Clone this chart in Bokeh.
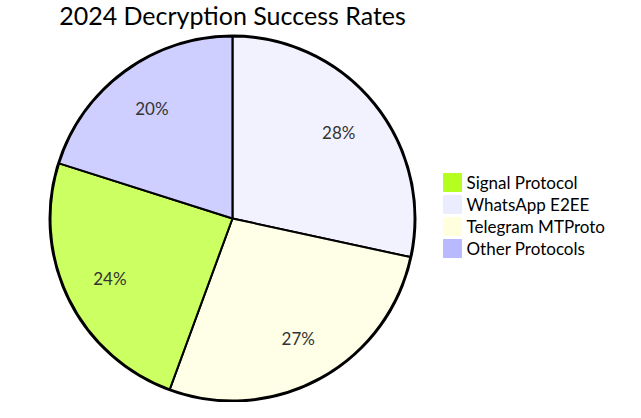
import math
from bokeh.plotting import figure
from bokeh.models import Range1d, ColumnDataSource
from bokeh.core.properties import value
from bokeh.embed import file_html
from bokeh.resources import INLINE

# ---- data ----
title = "2024 Decryption Success Rates"
categories = ["Signal Protocol", "WhatsApp E2EE", "Telegram MTProto", "Other Protocols"]
values = [24.3, 28.4, 27.2, 20.1]
colors = ["#b5ff20", "#ececff", "#ffffde", "#b9b9ff"]

FONT = "Lato"
W, H = 625, 402
p = figure(width=W, height=H, output_backend="svg", toolbar_location=None,
           x_range=Range1d(0, W), y_range=Range1d(0, H), min_border=0)
p.axis.visible = False
p.grid.visible = False
p.outline_line_color = None
p.background_fill_color = "white"

# reference pixel -> figure coords
def px(x):
    return x
def py(y):
    return H - (y - 8)

cx, cy, r = px(232), py(226), 182

# slices sorted descending (drawn clockwise from 12 o'clock)
order = sorted(range(len(values)), key=lambda i: -values[i])
total = sum(values)
starts, ends, fills, lx, ly, labels = [], [], [], [], [], []
cum = 0.0
for i in order:
    f0 = cum / total
    cum += values[i]
    f1 = cum / total
    a0 = math.pi / 2 - 2 * math.pi * f0
    a1 = math.pi / 2 - 2 * math.pi * f1
    starts.append(a0)
    ends.append(a1)
    fills.append(colors[i])
    mid = (a0 + a1) / 2
    lx.append(cx + 0.75 * r * math.cos(mid))
    ly.append(cy + 0.75 * r * math.sin(mid))
    labels.append(f"{round(values[i] / total * 100)}%")

src = ColumnDataSource(dict(s=starts, e=ends, c=fills))
p.wedge(x=cx, y=cy, radius=r, start_angle="s", end_angle="e", direction="clock",
        fill_color="c", fill_alpha=0.7, line_color="black", line_width=2, source=src)
p.circle(x=[cx], y=[cy], radius=r + 1, fill_color=None, line_color="black", line_width=2)

p.text(x=lx, y=ly, text=labels, text_font=value(FONT), text_font_size="17px",
       text_color="#333333", text_align="center", text_baseline="middle")

# title
p.text(x=[cx], y=[py(22)], text=[title], text_font=value(FONT), text_font_size="25px",
       text_color="black", text_align="center", text_baseline="middle")

# legend
lgx = [px(452)] * len(categories)
lgy = [py(190 + 22 * k) for k in range(len(categories))]
p.rect(x=lgx, y=lgy, width=18, height=18, width_units="screen", height_units="screen",
       fill_color=colors, line_color=colors, line_width=1)
p.text(x=[px(466)] * len(categories), y=lgy, text=categories, text_font=value(FONT),
       text_font_size="17px", text_color="black", text_align="left", text_baseline="middle")

open("out.html", "w").write(file_html(p, INLINE))
